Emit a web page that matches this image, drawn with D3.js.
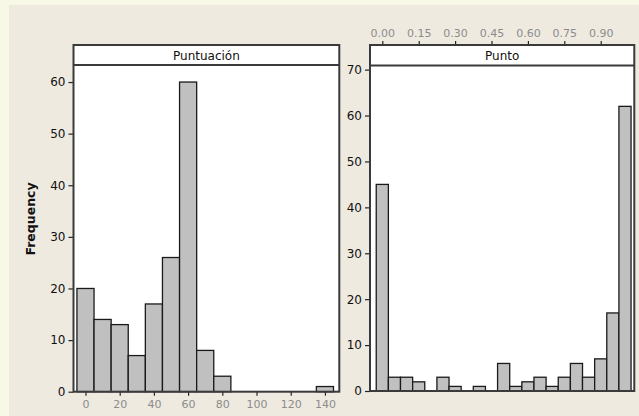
<!DOCTYPE html>
<html><head><meta charset="utf-8">
<script src="https://cdnjs.cloudflare.com/ajax/libs/d3/7.8.5/d3.min.js"></script>
<style>html,body{margin:0;padding:0;background:#f8f8e6;}svg{display:block;}</style>
</head><body><svg id="c" width="639" height="416"></svg>
<script>
// ---- data ----
const puntuacionBins   = [0,10,20,30,40,50,60,70,80,90,100,110,120,130,140];
const puntuacionCounts = [20,14,13,7,17,26,60,8,3,0,0,0,0,0,1];
const puntuacionTicks  = [0,20,40,60,80,100,120,140];
const puntuacionFreqTicks = [0,10,20,30,40,50,60];

const puntoBins   = [0.00,0.05,0.10,0.15,0.20,0.25,0.30,0.35,0.40,0.45,0.50,0.55,0.60,0.65,0.70,0.75,0.80,0.85,0.90,0.95,1.00];
const puntoCounts = [45,3,3,2,0,3,1,0,1,0,6,1,2,3,1,3,6,3,7,17,62];
const puntoTicks  = [0.00,0.15,0.30,0.45,0.60,0.75,0.90];
const puntoFreqTicks = [0,10,20,30,40,50,60,70];

const titles = ["Puntuación","Punto"];
const yTitle = "Frequency";

// ---- drawing ----
const svg = d3.select("#c");
svg.append("rect").attr("x",9).attr("y",5).attr("width",630).attr("height",411).attr("fill","#eeeae0");

function panel(o){
  const g = svg.append("g");
  const x = d3.scaleLinear().domain(o.xDom).range([o.x0,o.x1]);
  const y = d3.scaleLinear().domain(o.yDom).range([o.yBot,o.yTop]);
  // plot bg
  g.append("rect").attr("x",o.x0).attr("y",o.top).attr("width",o.x1-o.x0).attr("height",o.yBot-o.top).attr("fill","#fff");
  // bars
  const data = o.bins.map((b,i)=>({b, c:o.counts[i]})).filter(d=>d.c>0);
  g.selectAll("rect.bar").data(data).enter().append("rect").attr("class","bar")
    .attr("x",d=>x(d.b-o.w/2)).attr("width",d=>x(d.b+o.w/2)-x(d.b-o.w/2))
    .attr("y",d=>y(d.c)).attr("height",d=>y(0)-y(d.c))
    .attr("fill","#c0c0c0").attr("stroke","#1a1a1a").attr("stroke-width",1.3);
  // y axis
  const ya = d3.axisLeft(y).tickValues(o.yTicks).tickSize(5).tickPadding(3).tickFormat(d3.format("d"));
  const yg = g.append("g").attr("transform",`translate(${o.x0},0)`).call(ya);
  yg.select(".domain").remove();
  yg.selectAll("line").attr("stroke","#222").attr("stroke-width",1.2);
  yg.selectAll("text").attr("font-family","DejaVu Sans, sans-serif").attr("font-size",12).attr("fill","#111");
  // x axis
  let xa;
  if(o.xTop){
    xa = d3.axisTop(x).tickValues(o.xTicks).tickSize(4).tickPadding(4).tickFormat(d3.format(".2f"));
  } else {
    xa = d3.axisBottom(x).tickValues(o.xTicks).tickSize(4).tickPadding(5).tickFormat(d3.format("d"));
  }
  const xg = g.append("g").attr("transform",`translate(0,${o.xTop?o.top:o.yBot})`).call(xa);
  xg.select(".domain").remove();
  xg.selectAll("line").attr("stroke","#222").attr("stroke-width",1.2);
  xg.selectAll("text").attr("font-family","DejaVu Sans, sans-serif").attr("font-size",11).attr("fill","#8c8c8c");
  // frame and strip
  g.append("rect").attr("x",o.x0).attr("y",o.top).attr("width",o.x1-o.x0).attr("height",o.yBot-o.top)
    .attr("fill","none").attr("stroke","#3a3a3a").attr("stroke-width",2);
  g.append("line").attr("x1",o.x0).attr("x2",o.x1).attr("y1",o.yTop).attr("y2",o.yTop)
    .attr("stroke","#3a3a3a").attr("stroke-width",2);
  g.append("text").attr("x",(o.x0+o.x1)/2).attr("y",(o.top+o.yTop)/2+4.5).attr("text-anchor","middle")
    .attr("font-family","DejaVu Sans, sans-serif").attr("font-size",12).attr("fill","#111").text(o.title);
}

panel({x0:73.5,x1:339.3,top:45,yTop:65,yBot:391.7,xDom:[-7.01,148.4],yDom:[0,63.3],
  bins:puntuacionBins,counts:puntuacionCounts,w:10,xTicks:puntuacionTicks,yTicks:puntuacionFreqTicks,
  xTop:false,title:titles[0]});
panel({x0:370,x1:634.3,top:45,yTop:65.5,yBot:391,xDom:[-0.0507,1.0384],yDom:[0,70.9],
  bins:puntoBins,counts:puntoCounts,w:0.05,xTicks:puntoTicks,yTicks:puntoFreqTicks,
  xTop:true,title:titles[1]});

svg.append("text").attr("transform","translate(35,219) rotate(-90)").attr("text-anchor","middle")
  .attr("font-family","DejaVu Sans, sans-serif").attr("font-size",12.5).attr("font-weight","bold")
  .attr("fill","#111").text(yTitle);
</script></body></html>
